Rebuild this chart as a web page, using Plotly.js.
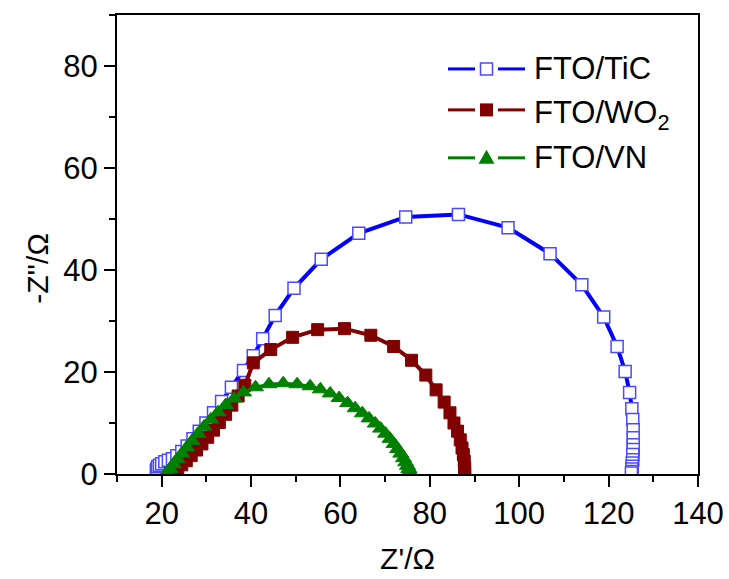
<!DOCTYPE html>
<html>
<head>
<meta charset="utf-8">
<script src="https://cdn.plot.ly/plotly-3.0.1.min.js"></script>
<style>html,body{margin:0;padding:0;background:#fff;}#chart{width:729px;height:579px;}</style>
</head>
<body>
<div id="chart"></div>
<script>
// Series names
const seriesNames = ["FTO/TiC", "FTO/WO<sub>2</sub>", "FTO/VN"];

// FTO/TiC  (Z', -Z'')
const ticX = [18.9, 18.8, 18.9, 19.1, 19.5, 20.0, 20.7, 21.5, 22.4, 23.4, 24.5, 25.7, 27.0, 28.4, 29.9, 31.6, 33.4, 35.6, 38.3, 40.5, 42.6, 45.4, 49.6, 55.7, 64.1, 74.6, 86.4, 97.5, 106.9, 114.0, 118.9, 121.9, 123.7, 124.7, 125.2, 125.4, 125.5, 125.5, 125.5, 125.5, 125.4, 125.4, 125.3, 125.3, 125.2, 125.2, 125.1];
const ticY = [0.2, 0.6, 1.0, 1.4, 1.7, 2.0, 2.4, 2.7, 3.0, 3.6, 4.4, 5.5, 6.9, 8.4, 10.0, 12.0, 14.2, 17.0, 20.3, 23.2, 26.5, 31.1, 36.4, 42.1, 47.2, 50.4, 50.9, 48.3, 43.2, 37.1, 30.8, 25.0, 20.1, 16.0, 12.8, 10.7, 8.7, 7.1, 5.75, 4.8, 3.8, 2.8, 2.15, 1.5, 1.0, 0.5, 0.2];

// FTO/WO2
const wo2X = [22.0, 22.8, 23.6, 24.5, 25.5, 26.6, 27.8, 29.0, 30.3, 31.6, 32.9, 34.3, 35.7, 37.1, 38.6, 40.5, 44.4, 49.3, 54.9, 60.9, 66.8, 71.9, 75.9, 79.1, 81.4, 83.2, 84.5, 85.4, 86.2, 86.8, 87.2, 87.5, 87.7, 87.8, 87.8];
const wo2Y = [0.1, 0.5, 1.1, 1.8, 2.6, 3.6, 4.7, 5.9, 7.2, 8.6, 10.1, 11.7, 13.5, 15.3, 17.4, 21.8, 24.4, 26.8, 28.3, 28.5, 27.2, 25.0, 22.3, 19.4, 16.5, 14.1, 12.0, 10.0, 8.4, 6.7, 5.1, 3.8, 2.5, 1.2, 0.2];

// FTO/VN
const vnX = [21.2, 21.8, 22.6, 23.5, 24.5, 25.6, 26.8, 28.1, 29.5, 31.0, 32.6, 34.3, 36.2, 38.3, 41.0, 44.0, 47.2, 50.3, 53.2, 55.5, 57.7, 59.7, 61.6, 63.3, 64.9, 66.4, 67.8, 69.0, 70.1, 71.1, 72.0, 72.8, 73.5, 74.1, 74.6, 75.0, 75.3, 75.5, 75.6];
const vnY = [0.3, 1.0, 1.9, 2.9, 4.0, 5.2, 6.5, 7.9, 9.3, 10.7, 12.1, 13.5, 14.8, 16.0, 17.0, 17.6, 17.8, 17.6, 17.2, 16.6, 15.8, 14.9, 13.9, 12.9, 11.9, 10.9, 9.9, 8.9, 7.9, 6.9, 5.9, 4.9, 4.0, 3.1, 2.3, 1.6, 1.0, 0.5, 0.1];

// Axis ticks
const xTicks = [20, 40, 60, 80, 100, 120, 140];
const yTicks = [0, 20, 40, 60, 80];

const FONT = "Liberation Sans, Arial, sans-serif";
const colTiC = "#0000ff", colWO2 = "#800000", colVN = "#008000";

const traces = [
  {x: ticX, y: ticY, mode: "lines+markers", name: seriesNames[0], showlegend: false,
   line: {color: colTiC, width: 4},
   marker: {symbol: "square", size: 12, color: "#ffffff", line: {color: "#4a4aff", width: 1.5}}},
  {x: wo2X, y: wo2Y, mode: "lines+markers", name: seriesNames[1], showlegend: false,
   line: {color: colWO2, width: 4},
   marker: {symbol: "square", size: 12, color: colWO2, line: {color: colWO2, width: 1}}},
  {x: vnX, y: vnY, mode: "lines+markers", name: seriesNames[2], showlegend: false,
   line: {color: colVN, width: 3},
   marker: {symbol: "triangle-up", size: 14, color: colVN, line: {color: colVN, width: 1}}}
];

// custom legend (paper coords)
const L = 117, R = 698, T = 15, B = 474.5;
const px = v => (v - L) / (R - L);
const py = v => (B - v) / (B - T);
const rows = [69, 110, 158];
const cols = [colTiC, colWO2, colVN];
const shapes = [];
const annotations = [];
rows.forEach((ry, i) => {
  shapes.push({type: "line", xref: "paper", yref: "paper", x0: px(448), x1: px(475), y0: py(ry), y1: py(ry), line: {color: cols[i], width: 3}});
  shapes.push({type: "line", xref: "paper", yref: "paper", x0: px(498), x1: px(525), y0: py(ry), y1: py(ry), line: {color: cols[i], width: 3}});
});
// legend markers
shapes.push({type: "rect", xref: "paper", yref: "paper", xsizemode: "pixel", ysizemode: "pixel", xanchor: px(486.5), yanchor: py(rows[0]), x0: -6, x1: 6, y0: -6, y1: 6, line: {color: "#4a4aff", width: 1.5}, fillcolor: "#ffffff"});
shapes.push({type: "rect", xref: "paper", yref: "paper", xsizemode: "pixel", ysizemode: "pixel", xanchor: px(486.5), yanchor: py(rows[1]), x0: -6.5, x1: 6.5, y0: -6.5, y1: 6.5, line: {color: colWO2, width: 0}, fillcolor: colWO2});
shapes.push({type: "path", xref: "paper", yref: "paper", xsizemode: "pixel", ysizemode: "pixel", xanchor: px(486.5), yanchor: py(rows[2]), path: "M -8 -6 L 8 -6 L 0 8 Z", line: {color: colVN, width: 0}, fillcolor: colVN});

seriesNames.forEach((n, i) => {
  annotations.push({text: n, xref: "paper", yref: "paper", x: px(532), y: py(rows[i] + (i === 1 ? 5 : 0)), xanchor: "left", yanchor: "middle", showarrow: false, font: {family: FONT, size: 31, color: "#000"}});
});
// y-axis title
annotations.push({text: "-Z''/Ω", xref: "paper", yref: "paper", x: px(38), y: py(268), xanchor: "center", yanchor: "middle", textangle: -90, showarrow: false, font: {family: FONT, size: 30, color: "#000"}});

const axisCommon = {
  showline: true, linecolor: "#000", linewidth: 2, mirror: true,
  ticks: "outside", ticklen: 11, tickwidth: 2, tickcolor: "#000",
  showgrid: false, zeroline: false,
  tickfont: {family: FONT, size: 31, color: "#000"},
  minor: {dtick: 10, ticks: "outside", ticklen: 6, tickwidth: 2, tickcolor: "#000", showgrid: false}
};

const layout = {
  width: 729, height: 579,
  margin: {l: L, r: 729 - R, t: T, b: 579 - B},
  paper_bgcolor: "#fff", plot_bgcolor: "#fff",
  showlegend: false,
  xaxis: Object.assign({}, axisCommon, {range: [10, 140], tickvals: xTicks, ticktext: xTicks.map(String),
    title: {text: "Z'/Ω", font: {family: FONT, size: 30, color: "#000"}, standoff: 18}}),
  yaxis: Object.assign({}, axisCommon, {range: [0, 90], tickvals: yTicks, ticktext: yTicks.map(String)}),
  shapes: shapes,
  annotations: annotations
};

Plotly.newPlot("chart", traces, layout, {displayModeBar: false, staticPlot: true});
</script>
</body>
</html>
